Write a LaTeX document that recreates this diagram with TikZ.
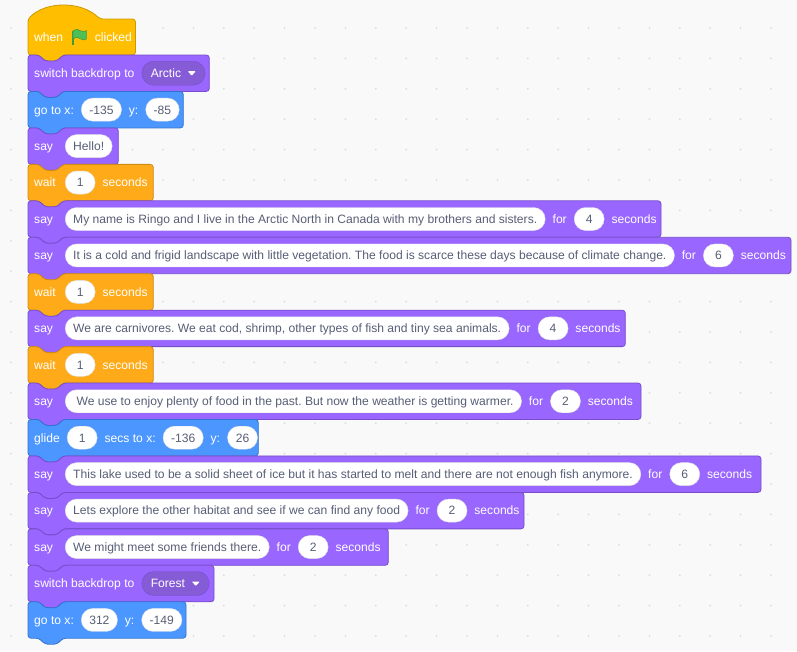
\documentclass[tikz,border=0pt]{standalone}
\usepackage{fontspec}
\setmainfont{Liberation Sans}
\usepackage{tikz}
\usetikzlibrary{positioning}
\frenchspacing

\definecolor{canvas}{HTML}{F9F9F9}
\definecolor{dotgray}{HTML}{DCDCDC}
\definecolor{looksfill}{HTML}{9966FF}
\definecolor{looksline}{HTML}{774DCB}
\definecolor{menufill}{HTML}{855CD6}
\definecolor{motionfill}{HTML}{4C97FF}
\definecolor{motionline}{HTML}{3373CC}
\definecolor{controlfill}{HTML}{FFAB19}
\definecolor{controlline}{HTML}{CF8B17}
\definecolor{eventsfill}{HTML}{FFBF00}
\definecolor{eventsline}{HTML}{CC9900}
\definecolor{slottext}{HTML}{575E75}
\definecolor{flaggreen}{HTML}{4CBF56}
\definecolor{flagdark}{HTML}{45993D}

\newcommand{\stackblock}[3]{%
  \draw[#1] (28,#2+18) -- (28,#2) -- (39,#2) -- (45,#2+6) -- (57,#2+6) -- (63,#2) -- (#3,#2)
    -- (#3,#2+36.45) -- (63,#2+36.45) -- (57,#2+42.45) -- (45,#2+42.45) -- (39,#2+36.45)
    -- (28,#2+36.45) -- cycle;}

\begin{document}
\begin{tikzpicture}[x=1pt,y=-1pt,font=\fontsize{12.1pt}{14pt}\selectfont,
  lbl/.style={anchor=west,inner sep=0pt,text=white,text height=8.7pt,text depth=0pt},
  slot/.style={fill=white,draw=black!12,rounded corners=11.5pt,minimum height=23pt,minimum width=30pt,
    inner xsep=8pt,inner ysep=0pt,text=slottext,text height=8.7pt,text depth=0pt},
  menu/.style={fill=menufill,draw=looksline,rounded corners=12pt,minimum height=24pt,
    inner xsep=9pt,inner ysep=0pt,text=white,text height=8.7pt,text depth=0pt},
  looks/.style={fill=looksfill,draw=looksline,line width=0.8pt,rounded corners=3pt},
  motion/.style={fill=motionfill,draw=motionline,line width=0.8pt,rounded corners=3pt},
  control/.style={fill=controlfill,draw=controlline,line width=0.8pt,rounded corners=3pt},
  events/.style={fill=eventsfill,draw=eventsline,line width=0.8pt,rounded corners=3pt}]

  \useasboundingbox (0,0) rectangle (797,651);
  \fill[canvas] (0,0) rectangle (797,651);
  \foreach \i in {0,...,25}
    \foreach \j in {0,...,20}
      \fill[dotgray] (11+30.4*\i,28+30.4*\j) circle (1pt);

  \draw[events] (28,37) -- (28,19) .. controls (46,1) and (81,1) .. (100,19) -- (135.5,19)
    -- (135.5,55) -- (63,55) -- (57,61) -- (45,61) -- (39,55) -- (28,55) -- cycle;
  \stackblock{looks}{55}{209.3}
  \stackblock{motion}{91.45}{183.3}
  \stackblock{looks}{127.9}{118.3}
  \stackblock{control}{164.35}{153.3}
  \stackblock{looks}{200.8}{661}
  \stackblock{looks}{237.25}{791}
  \stackblock{control}{273.7}{153.3}
  \stackblock{looks}{310.15}{625.3}
  \stackblock{control}{346.6}{153.3}
  \stackblock{looks}{383.05}{641}
  \stackblock{motion}{419.5}{258.3}
  \stackblock{looks}{455.95}{761}
  \stackblock{looks}{492.4}{524}
  \stackblock{looks}{528.85}{388.3}
  \stackblock{looks}{565.3}{214}
  \stackblock{motion}{601.75}{186}

  \node[lbl] (h1) at (34,37) {when};
  \node[minimum width=15pt,minimum height=15pt,inner sep=0pt] (flag) [right=8pt of h1] {};
  \node[lbl] (h2) [right=8pt of flag] {clicked};
  \begin{scope}[shift={(flag.center)}]
    \draw[flagdark,line width=1.6pt] (-6.3,-6.5) -- (-6.3,7.5);
    \filldraw[fill=flaggreen,draw=flagdark,line width=0.6pt] (-6,-6) .. controls (-3,-8.5) and (0,-7.5) .. (2,-6)
      .. controls (4,-4.5) and (6,-5.5) .. (7.3,-6.5) -- (7.3,2) .. controls (6,3) and (4,3.5) .. (2,2)
      .. controls (0,0.5) and (-3,-0.5) .. (-6,2) -- cycle;
  \end{scope}

  \node[lbl] (b1a) at (34,73.2) {switch backdrop to};
  \node[menu] (b1b) [right=7pt of b1a] {Arctic\hspace{15pt}\mbox{}};
  \fill[white,rounded corners=0.8pt] ([xshift=-17.5pt,yshift=2pt]b1b.east) -- ++(8,0) -- ++(-4,4.5) -- cycle;

  \node[lbl] (b2a) at (34,109.65) {go to x:};
  \node[slot] (b2b) [right=7pt of b2a] {-135};
  \node[lbl] (b2c) [right=7pt of b2b] {y:};
  \node[slot] (b2d) [right=7pt of b2c] {-85};

  \node[lbl] (b3a) at (34,146.1) {say};
  \node[slot] (b3b) [right=31pt of b3a.west] {Hello!};

  \node[lbl] (b4a) at (34,182.55) {wait};
  \node[slot] (b4b) [right=31pt of b4a.west] {1};
  \node[lbl] (b4c) [right=7pt of b4b] {seconds};

  \node[lbl] (b5a) at (34,219) {say};
  \node[slot] (b5b) [right=31pt of b5a.west] {My name is Ringo and I live in the Arctic North in Canada with my brothers and sisters.};
  \node[lbl] (b5c) [right=7pt of b5b] {for};
  \node[slot] (b5d) [right=7pt of b5c] {4};
  \node[lbl] (b5e) [right=7pt of b5d] {seconds};

  \node[lbl] (b6a) at (34,255.45) {say};
  \node[slot] (b6b) [right=31pt of b6a.west] {It is a cold and frigid landscape with little vegetation. The food is scarce these days because of climate change.};
  \node[lbl] (b6c) [right=7pt of b6b] {for};
  \node[slot] (b6d) [right=7pt of b6c] {6};
  \node[lbl] (b6e) [right=7pt of b6d] {seconds};

  \node[lbl] (b7a) at (34,291.9) {wait};
  \node[slot] (b7b) [right=31pt of b7a.west] {1};
  \node[lbl] (b7c) [right=7pt of b7b] {seconds};

  \node[lbl] (b8a) at (34,328.35) {say};
  \node[slot] (b8b) [right=31pt of b8a.west] {We are carnivores. We eat cod, shrimp, other types of fish and tiny sea animals.};
  \node[lbl] (b8c) [right=7pt of b8b] {for};
  \node[slot] (b8d) [right=7pt of b8c] {4};
  \node[lbl] (b8e) [right=7pt of b8d] {seconds};

  \node[lbl] (b9a) at (34,364.8) {wait};
  \node[slot] (b9b) [right=31pt of b9a.west] {1};
  \node[lbl] (b9c) [right=7pt of b9b] {seconds};

  \node[lbl] (b10a) at (34,401.25) {say};
  \node[slot] (b10b) [right=31pt of b10a.west] {\ We use to enjoy plenty of food in the past. But now the weather is getting warmer.};
  \node[lbl] (b10c) [right=7pt of b10b] {for};
  \node[slot] (b10d) [right=7pt of b10c] {2};
  \node[lbl] (b10e) [right=7pt of b10d] {seconds};

  \node[lbl] (b11a) at (34,437.7) {glide};
  \node[slot] (b11b) [right=7pt of b11a] {1};
  \node[lbl] (b11c) [right=7pt of b11b] {secs to x:};
  \node[slot] (b11d) [right=7pt of b11c] {-136};
  \node[lbl] (b11e) [right=7pt of b11d] {y:};
  \node[slot] (b11f) [right=7pt of b11e] {26};

  \node[lbl] (b12a) at (34,474.15) {say};
  \node[slot] (b12b) [right=31pt of b12a.west] {This lake used to be a solid sheet of ice but it has started to melt and there are not enough fish anymore.};
  \node[lbl] (b12c) [right=7pt of b12b] {for};
  \node[slot] (b12d) [right=7pt of b12c] {6};
  \node[lbl] (b12e) [right=7pt of b12d] {seconds};

  \node[lbl] (b13a) at (34,510.6) {say};
  \node[slot] (b13b) [right=31pt of b13a.west] {Lets explore the other habitat and see if we can find any food};
  \node[lbl] (b13c) [right=7pt of b13b] {for};
  \node[slot] (b13d) [right=7pt of b13c] {2};
  \node[lbl] (b13e) [right=7pt of b13d] {seconds};

  \node[lbl] (b14a) at (34,547.05) {say};
  \node[slot] (b14b) [right=31pt of b14a.west] {We might meet some friends there.};
  \node[lbl] (b14c) [right=7pt of b14b] {for};
  \node[slot] (b14d) [right=7pt of b14c] {2};
  \node[lbl] (b14e) [right=7pt of b14d] {seconds};

  \node[lbl] (b15a) at (34,583.5) {switch backdrop to};
  \node[menu] (b15b) [right=7pt of b15a] {Forest\hspace{15pt}\mbox{}};
  \fill[white,rounded corners=0.8pt] ([xshift=-17.5pt,yshift=2pt]b15b.east) -- ++(8,0) -- ++(-4,4.5) -- cycle;

  \node[lbl] (b16a) at (34,619.95) {go to x:};
  \node[slot] (b16b) [right=7pt of b16a] {312};
  \node[lbl] (b16c) [right=7pt of b16b] {y:};
  \node[slot] (b16d) [right=7pt of b16c] {-149};
\end{tikzpicture}
\end{document}
